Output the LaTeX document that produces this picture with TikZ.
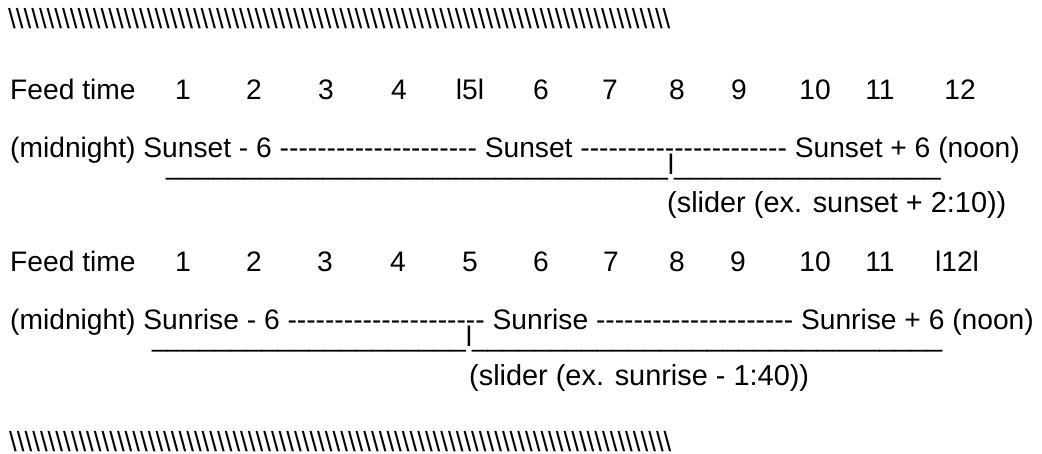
\documentclass[tikz,border=0pt]{standalone}
\usepackage{fontspec}
\setmainfont{Liberation Sans}[Ligatures=TeXOff]
\ExplSyntaxOn
\cs_new:Npn \glyphrun #1#2 { \prg_replicate:nn {#1} {#2} }
\ExplSyntaxOff

\begin{document}
\begin{tikzpicture}[x=1pt,y=-1pt,
  txt/.style={inner sep=0pt, anchor=base west, font=\fontsize{28.2}{33}\selectfont},
  note/.style={txt, font=\fontsize{28.9}{33}\selectfont},
  hatch/.style={inner sep=0pt, anchor=base west, font=\fontsize{27.7}{33}\selectfont},
  num/.style={inner sep=0pt, anchor=base, font=\fontsize{28.2}{33}\selectfont}]
\useasboundingbox (0,0) rectangle (1042,454);

% hatch rule above
\node[hatch] (hatchtop) at (8,28.5) {\glyphrun{86}{\textbackslash}};

% sunset block
\node[txt] (feedA) at (10,100) {Feed time};
\foreach \n/\x in {1/183,2/254,3/326,4/399,l5l/470,6/541,7/610,8/677,9/739,10/815,11/880,12/960}
  \node[num] (a\n) at (\x,100) {\n};
\node[txt] (scaleA) at (10,158) {(midnight) Sunset - 6 \glyphrun{21}{-} Sunset \glyphrun{22}{-} Sunset + 6 (noon)};
\node[txt] (trackA) at (166,175) {\glyphrun{32}{\_}l\glyphrun{17}{\_}};
\node[note] (sliderA) at (667,213) {(slider (ex. sunset + 2:10))};

% sunrise block
\node[txt] (feedB) at (10,272) {Feed time};
\foreach \n/\x in {1/183,2/254,3/325,4/398,5/470,6/541,7/611,8/677,9/738,10/815,11/880,l12l/957}
  \node[num] (b\n) at (\x,272) {\n};
\node[txt] (scaleB) at (10,330) {(midnight) Sunrise - 6 \glyphrun{21}{-} Sunrise \glyphrun{21}{-} Sunrise + 6 (noon)};
\node[txt] (trackB) at (152,347) {\glyphrun{20}{\_}l\glyphrun{30}{\_}};
\node[note] (sliderB) at (469,385) {(slider (ex. sunrise - 1:40))};

% hatch rule below
\node[hatch] (hatchbot) at (9,451.5) {\glyphrun{86}{\textbackslash}};
\end{tikzpicture}
\end{document}
